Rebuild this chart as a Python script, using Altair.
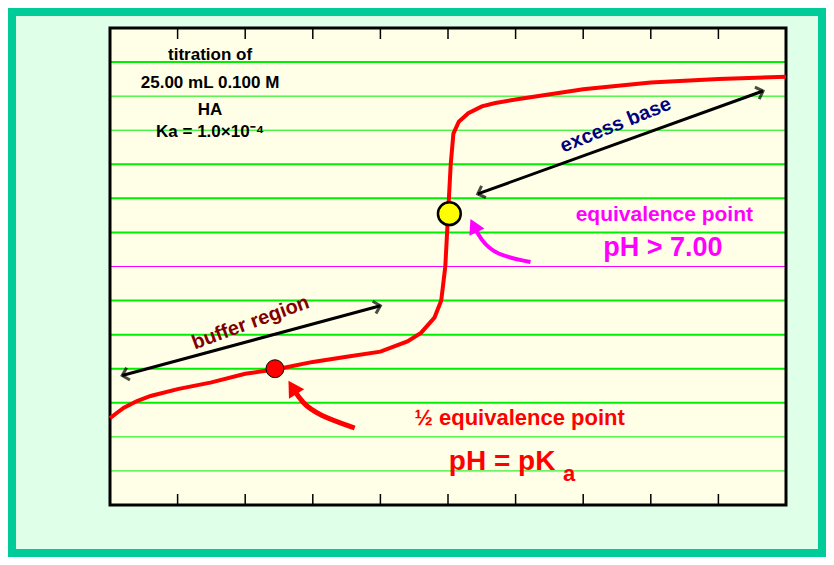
import math
import altair as alt
import pandas as pd

# titration curve
vol = [0, 0.5, 1, 2, 3, 5, 7.5, 10, 12.5, 15, 17.5, 20, 22, 23, 24, 24.5, 24.8, 25.0, 25.2, 25.4, 25.8, 26.5, 27.5, 28.5, 30, 35, 40, 45, 50]
ph = [2.55, 2.7, 2.85, 3.05, 3.2, 3.4, 3.6, 3.85, 4.0, 4.2, 4.35, 4.5, 4.8, 5.05, 5.5, 6.0, 7.0, 8.5, 10.0, 10.9, 11.25, 11.5, 11.7, 11.8, 11.9, 12.2, 12.4, 12.5, 12.57]

thick_grid = [3, 4, 5, 6, 8, 9, 10, 13]
thin_grid = [1, 2, 11, 12]
x_ticks = list(range(0, 51, 5))

# annotation arrows (data coords)
buffer_arrow = [(0.9, 3.8), (20.0, 5.85)]
base_arrow = [(27.2, 9.13), (48.3, 12.15)]
red_curve = [(18.1, 2.26), (15.4, 2.64), (14.2, 3.0), (13.5, 3.45)]
pink_curve = [(31.1, 7.13), (28.5, 7.34), (27.4, 7.8), (26.9, 8.2)]

W, H = 676, 477
SX, SY = W / 50, H / 14

def line_df(pts, name):
    return pd.DataFrame({"x": [p[0] for p in pts], "y": [p[1] for p in pts], "o": range(len(pts)), "g": name})

def head(p_from, p_to):
    sdx = (p_to[0] - p_from[0]) * SX
    sdy = -(p_to[1] - p_from[1]) * SY
    ang = math.degrees(math.atan2(sdx, -sdy)) % 360
    return {"x": p_to[0], "y": p_to[1], "a": ang}

xs = alt.Scale(domain=[0, 50], nice=False)
ys = alt.Scale(domain=[0, 14], nice=False)
X = alt.X("x:Q", scale=xs, axis=None)
Y = alt.Y("y:Q", scale=ys, axis=None)

grid_thick = alt.Chart(pd.DataFrame({"y": thick_grid})).mark_rule(color="#00ee00", strokeWidth=2).encode(y=Y)
grid_thin = alt.Chart(pd.DataFrame({"y": thin_grid})).mark_rule(color="#00ee00", strokeWidth=1).encode(y=Y)
grid_seven = alt.Chart(pd.DataFrame({"y": [7]})).mark_rule(color="#ff00ff", strokeWidth=1).encode(y=Y)

tk = pd.DataFrame({"x": x_ticks})
ticks_bot = alt.Chart(tk).mark_rule(color="black", strokeWidth=1.5).encode(
    x=X, y=alt.value(H), y2=alt.value(H - 11))
ticks_top = alt.Chart(tk).mark_rule(color="black", strokeWidth=1.5).encode(
    x=X, y=alt.value(0), y2=alt.value(11))

axes = alt.Chart(pd.DataFrame({"x": [0], "y": [0]})).mark_point(opacity=0).encode(
    x=alt.X("x:Q", scale=xs, title="mL 0.100 M NaOH added",
            axis=alt.Axis(values=x_ticks, ticks=False, domain=False, grid=False, labelPadding=4, zindex=3,
                          labelFont="DejaVu Sans Condensed", labelFontSize=10, labelColor="black",
                          titleFont="Liberation Sans", titleFontSize=21, titleFontWeight="bold",
                          titleColor="black", titlePadding=6)),
    y=alt.Y("y:Q", scale=ys, title="pH",
            axis=alt.Axis(values=list(range(15)), ticks=False, domain=False, grid=False, labelPadding=6, zindex=3,
                          labelFont="DejaVu Sans Condensed", labelFontSize=10, labelColor="black",
                          titleFont="Liberation Sans", titleFontSize=32, titleFontWeight="bold",
                          titleColor="black", titleAngle=0, titleX=-82, titleY=H / 2 + 10)),
)

curve = alt.Chart(pd.DataFrame({"x": vol, "y": ph})).mark_line(color="#ff0000", strokeWidth=4).encode(x=X, y=Y)

arrows = pd.concat([line_df(buffer_arrow, "b"), line_df(base_arrow, "e")])
arrow_lines = alt.Chart(arrows).mark_line(color="black", strokeWidth=3).encode(x=X, y=Y, detail="g:N", order="o:Q")
heads_black = pd.DataFrame([head(buffer_arrow[1], buffer_arrow[0]), head(buffer_arrow[0], buffer_arrow[1]),
                            head(base_arrow[1], base_arrow[0]), head(base_arrow[0], base_arrow[1])])
arrow_heads = alt.Chart(heads_black).mark_point(shape="M-1,1L0,0L1,1", filled=False, color="black",
                                                strokeWidth=3, size=160).encode(x=X, y=Y, angle=alt.Angle("a:Q", scale=None))

red_line = alt.Chart(line_df(red_curve, "r")).mark_line(color="#ff0000", strokeWidth=5, interpolate="basis").encode(x=X, y=Y, order="o:Q")
red_head = alt.Chart(pd.DataFrame([head(red_curve[-2], red_curve[-1])])).mark_point(
    shape="triangle-up", filled=True, color="#ff0000", size=320, opacity=1).encode(x=X, y=Y, angle=alt.Angle("a:Q", scale=None))
pink_line = alt.Chart(line_df(pink_curve, "p")).mark_line(color="#ff00ff", strokeWidth=4, interpolate="basis").encode(x=X, y=Y, order="o:Q")
pink_head = alt.Chart(pd.DataFrame([head(pink_curve[-2], pink_curve[-1])])).mark_point(
    shape="triangle-up", filled=True, color="#ff00ff", size=280, opacity=1).encode(x=X, y=Y, angle=alt.Angle("a:Q", scale=None))

half_pt = alt.Chart(pd.DataFrame({"x": [12.2], "y": [4.0]})).mark_point(
    filled=True, color="#ff0000", stroke="black", strokeWidth=1, size=320, opacity=1).encode(x=X, y=Y)
eq_pt = alt.Chart(pd.DataFrame({"x": [25.1], "y": [8.55]})).mark_circle(
    color="#ffff00", stroke="black", strokeWidth=2.5, size=520, opacity=1).encode(x=X, y=Y)

def label(txt, x, y, size, color, angle=0, align="center"):
    return alt.Chart(pd.DataFrame({"x": [x], "y": [y], "t": [txt]})).mark_text(
        font="Liberation Sans", fontWeight="bold", fontSize=size, color=color, angle=angle, align=align
    ).encode(x=X, y=Y, text="t:N")

texts = [
    label("titration of", 7.4, 13.2, 17, "black"),
    label("25.00 mL 0.100 M", 7.4, 12.4, 17, "black"),
    label("HA", 7.4, 11.6, 17, "black"),
    label("Ka = 1.0×10⁻⁴", 7.4, 10.95, 17, "black"),
    label("excess base", 37.4, 11.15, 20, "#000080", angle=338),
    label("equivalence point", 41.0, 8.5, 21, "#ff00ff"),
    label("pH > 7.00", 40.9, 7.55, 27, "#ff00ff"),
    label("buffer region", 10.4, 5.35, 20, "#800000", angle=340),
    label("½ equivalence point", 30.3, 2.55, 22, "#ff0000"),
    label("pH = pK", 29.0, 1.26, 28, "#ff0000"),
    label("a", 33.5, 0.9, 22, "#ff0000", align="left"),
]

frame = alt.Chart(pd.DataFrame({"x": [0]})).mark_rect(
    fill="#e0ffe8", stroke="#00cc99", strokeWidth=8, clip=False).encode(
    x=alt.value(-98), x2=alt.value(W + 36), y=alt.value(-16), y2=alt.value(H + 48))
plotbg = alt.Chart(pd.DataFrame({"x": [0]})).mark_rect(fill="#ffffe8").encode(
    x=alt.value(0), x2=alt.value(W), y=alt.value(0), y2=alt.value(H))
plotframe = alt.Chart(pd.DataFrame({"x": [0]})).mark_rect(
    fill=None, fillOpacity=0, stroke="black", strokeWidth=3).encode(
    x=alt.value(0), x2=alt.value(W), y=alt.value(0), y2=alt.value(H))

chart = alt.layer(
    frame, plotbg, grid_thin, grid_thick, grid_seven, ticks_bot, ticks_top, plotframe, axes,
    curve, arrow_lines, arrow_heads, red_line, red_head, pink_line, pink_head,
    half_pt, eq_pt, *texts
).properties(
    width=W, height=H, background="#e0ffe8",
    autosize=alt.AutoSizeParams(type="none"),
    padding={"left": 102, "top": 20, "right": 40, "bottom": 52},
).configure_view(stroke=None)

chart.save("out.html", embed_options={"renderer": "svg", "actions": False})
